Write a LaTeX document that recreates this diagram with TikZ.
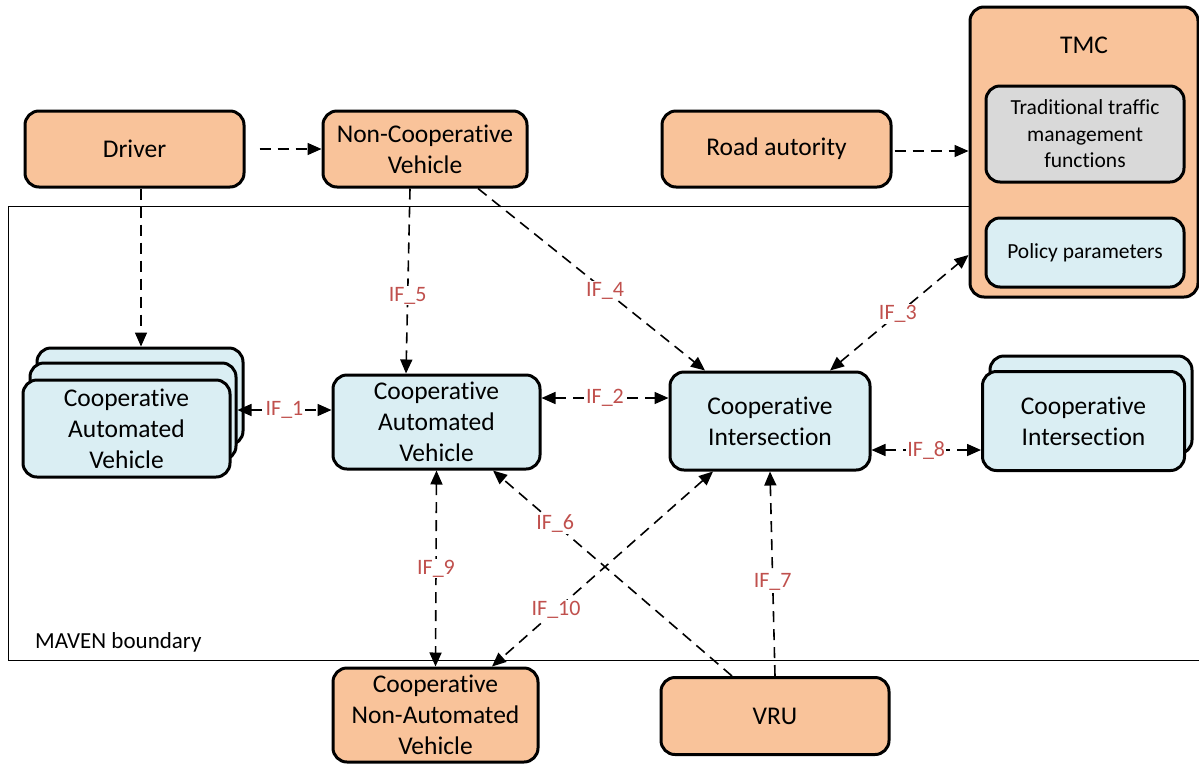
\documentclass[tikz,border=0pt]{standalone}
\usepackage{fontspec}
\setmainfont{Carlito}[Ligatures=NoCommon]
\usetikzlibrary{arrows.meta}
\definecolor{orangeF}{HTML}{F9C39A}
\definecolor{blueF}{HTML}{DAEEF3}
\definecolor{grayF}{HTML}{D9D9D9}
\definecolor{ifred}{HTML}{C0504D}
\begin{document}
\begin{tikzpicture}[x=1pt,y=-1pt,
  box/.style={draw, line width=3pt, rounded corners=14pt, align=center, inner sep=0pt,
    font=\fontsize{25.5}{31}\selectfont},
  obox/.style={box, fill=orangeF},
  bbox/.style={box, fill=blueF},
  conn/.style={line width=1.6pt, dash pattern=on 11pt off 7pt, -{Triangle[length=14pt,width=12pt]}},
  bconn/.style={conn, {Triangle[length=14pt,width=12pt]}-{Triangle[length=14pt,width=12pt]}},
  iflab/.style={fill=white, text=ifred, inner sep=1pt, font=\fontsize{22}{26}\selectfont}
]
\useasboundingbox (0,0) rectangle (1199,764);
% boundary
\node[draw, line width=1pt, minimum width=1191pt, minimum height=454pt, inner sep=0pt] (bnd) at (603.5,433) {};
\node[anchor=base west, inner sep=0pt, font=\fontsize{23}{28}\selectfont] (bndlab) at (35,648) {MAVEN boundary};
% top row
\node[obox, minimum width=219pt, minimum height=76pt] (drv) at (134.5,149) {Driver};
\node[obox, minimum width=204pt, minimum height=76pt] (ncv) at (425,149) {Non-Cooperative\\Vehicle};
\node[obox, minimum width=229pt, minimum height=76pt] (ra) at (776.5,149) {Road autority};
% TMC
\node[obox, minimum width=228pt, minimum height=290pt] (tmc) at (1084,152) {};
\node[inner sep=0pt, font=\fontsize{25.5}{31}\selectfont] (tmclab) at (1084,45) {TMC};
\node[box, fill=grayF, minimum width=198pt, minimum height=96pt, font=\fontsize{21.5}{26.5}\selectfont] (ttm) at (1085,134) {Traditional traffic\\management\\functions};
\node[bbox, minimum width=198pt, minimum height=69pt, font=\fontsize{21.5}{26.5}\selectfont] (pp) at (1085,252.5) {Policy parameters};
% left stack
\node[bbox, minimum width=206pt, minimum height=97pt] (csb) at (140,396.5) {};
\node[bbox, minimum width=206pt, minimum height=97pt] (csm) at (133,411.5) {};
\node[bbox, minimum width=207pt, minimum height=97pt] (csf) at (126.5,428.5) {Cooperative\\Automated\\Vehicle};
% centre
\node[bbox, minimum width=207pt, minimum height=94pt] (cav) at (436.5,422) {Cooperative\\Automated\\Vehicle};
\node[bbox, minimum width=200pt, minimum height=98pt] (ci) at (770,421) {Cooperative\\Intersection};
% right stack
\node[bbox, minimum width=202pt, minimum height=98pt] (rcb) at (1091,405) {};
\node[bbox, minimum width=202pt, minimum height=99pt] (rcf) at (1083.5,421) {Cooperative\\Intersection};
% bottom
\node[obox, minimum width=205pt, minimum height=94pt] (cnav) at (435.5,715) {Cooperative\\Non-Automated\\Vehicle};
\node[obox, minimum width=228pt, minimum height=77pt] (vru) at (775,716) {VRU};
% connectors
\draw[conn] ([xshift=14pt]drv.east) -- (ncv.west);
\draw[conn] ([xshift=2pt]ra.east |- 0,151) -- (tmc.west |- 0,151);
\draw[conn] (drv.south -| 141,0) -- (csb.north -| 141,0);
\draw[conn] (ncv.south -| 410,0) -- node[iflab, pos=0.58] (l5) {IF\_5} (cav.north -| 406,0);
\draw[conn] (ncv.south -| 478,0) -- node[iflab, pos=0.56] (l4) {IF\_4} (ci.north -| 705,0);
\draw[bconn] (ci.north -| 830,0) -- node[iflab, pos=0.49] (l3) {IF\_3} (tmc.west |- 0,255);
\draw[bconn] (csm.east |- 0,410) -- node[iflab] (l1) {IF\_1} (cav.west |- 0,410);
\draw[bconn] (cav.east |- 0,398) -- node[iflab] (l2) {IF\_2} (ci.west |- 0,398);
\draw[bconn] (ci.east |- 0,450) -- node[iflab] (l8) {IF\_8} (rcf.west |- 0,450);
\draw[bconn] (cav.south) -- node[iflab] (l9) {IF\_9} (cnav.north);
\draw[conn] (vru.north -| 732,0) -- node[iflab, pos=0.74] (l6) {IF\_6} (cav.south -| 493,0);
\draw[bconn] (ci.south -| 713,0) -- node[iflab, pos=0.71] (l10) {IF\_10} (cnav.north -| 492,0);
\draw[conn] (vru.north -| 775,0) -- node[iflab, pos=0.46] (l7) {IF\_7} (ci.south -| 770,0);
\end{tikzpicture}
\end{document}
